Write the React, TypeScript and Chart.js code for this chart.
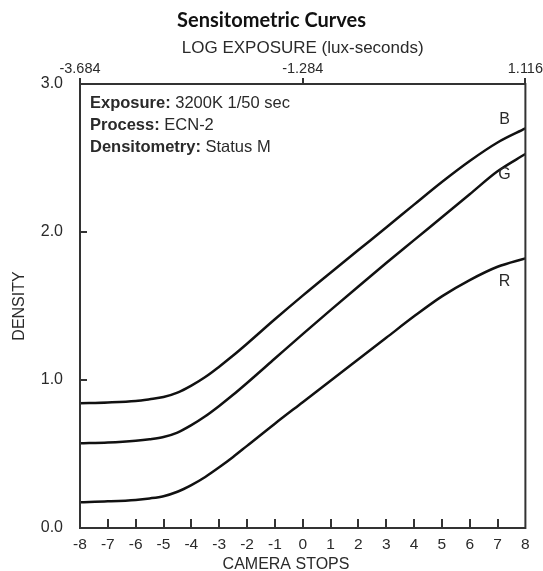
import React, { useEffect, useRef } from "react";
import { Chart, registerables } from "chart.js";

Chart.register(...registerables);

// Camera stops (bottom axis)
const stops = [-8, -7, -6, -5.5, -5, -4.5, -4, -3.5, -3, -2.5, -2, -1, 0, 1, 2, 3, 4, 5, 6, 7, 8];
// Density values per channel
const blueDensity = [0.843, 0.848, 0.858, 0.87, 0.885, 0.915, 0.962, 1.02, 1.09, 1.165, 1.245, 1.41, 1.57, 1.725, 1.878, 2.03, 2.185, 2.338, 2.48, 2.605, 2.7];
const greenDensity = [0.572, 0.578, 0.59, 0.6, 0.615, 0.645, 0.695, 0.755, 0.825, 0.9, 0.98, 1.145, 1.31, 1.472, 1.632, 1.79, 1.945, 2.1, 2.255, 2.41, 2.527];
const redDensity = [0.174, 0.18, 0.19, 0.2, 0.215, 0.245, 0.29, 0.345, 0.41, 0.48, 0.555, 0.705, 0.85, 0.995, 1.14, 1.285, 1.43, 1.565, 1.675, 1.765, 1.822];

// Curve labels
const curveNames = ["B", "G", "R"];
const curveLabelStops = [7.25, 7.25, 7.25];
const curveLabelDensities = [2.757, 2.385, 1.662];

// Top axis: log exposure tick labels at stops
const topTickStops = [-8, 0, 8];
const topTickLabels = ["-3.684", "-1.284", "1.116"];

// Info box
const infoKeys = ["Exposure:", "Process:", "Densitometry:"];
const infoValues = ["3200K 1/50 sec", "ECN-2", "Status M"];

const TEXT = "#2a2a2a";
const LINE = "#111";
const SANS = "'Liberation Sans', Arial, sans-serif";

export default function App() {
  const ref = useRef<HTMLCanvasElement | null>(null);

  useEffect(() => {
    if (!ref.current) return;
    const mk = (vals: number[]) => stops.map((s, i) => ({ x: s, y: vals[i] }));

    const overlay = {
      id: "overlay",
      afterDraw(chart: any) {
        const ctx = chart.ctx;
        const { left, right, top, bottom } = chart.chartArea;
        const xs = chart.scales.x;
        const ys = chart.scales.y;
        ctx.save();
        ctx.strokeStyle = "#333";
        ctx.lineWidth = 2;
        ctx.strokeRect(left, top, right - left, bottom - top);
        // inside ticks bottom
        ctx.beginPath();
        for (let s = -7; s <= 7; s++) {
          const px = Math.round(xs.getPixelForValue(s));
          ctx.moveTo(px, bottom);
          ctx.lineTo(px, bottom - 9);
        }
        for (const d of [1, 2]) {
          const py = Math.round(ys.getPixelForValue(d));
          ctx.moveTo(left, py);
          ctx.lineTo(left + 7, py);
        }
        ctx.stroke();
        // curve labels
        ctx.fillStyle = TEXT;
        ctx.font = `16px ${SANS}`;
        ctx.textAlign = "center";
        ctx.textBaseline = "middle";
        curveNames.forEach((n, i) => {
          ctx.fillText(n, xs.getPixelForValue(curveLabelStops[i]), ys.getPixelForValue(curveLabelDensities[i]));
        });
        // bottom axis title
        ctx.font = `16px ${SANS}`;
        ctx.fillText("CAMERA STOPS", xs.getPixelForValue(-0.6), bottom + 37);
        // info box
        ctx.textAlign = "left";
        const x0 = left + 10;
        infoKeys.forEach((k, i) => {
          const y = top + 19 + i * 22;
          ctx.font = `bold 16.5px ${SANS}`;
          ctx.fillText(k, x0, y);
          const w = ctx.measureText(k + " ").width;
          ctx.font = `16.5px ${SANS}`;
          ctx.fillText(infoValues[i], x0 + w, y);
        });
        ctx.restore();
      },
    };

    const chart = new Chart(ref.current, {
      type: "line",
      data: {
        datasets: [
          { label: "B", data: mk(blueDensity) },
          { label: "G", data: mk(greenDensity) },
          { label: "R", data: mk(redDensity) },
        ].map((d) => ({
          ...d,
          borderColor: LINE,
          borderWidth: 2.5,
          pointRadius: 0,
          fill: false,
          cubicInterpolationMode: "monotone" as const,
        })),
      },
      options: {
        responsive: false,
        animation: false,
        layout: { padding: 0 },
        plugins: {
          legend: { display: false },
          tooltip: { enabled: false },
          title: {
            display: true,
            text: "Sensitometric Curves",
            color: "#111",
            font: { family: "Lato, 'Open Sans', sans-serif", size: 20, weight: "bold", lineHeight: 1.2 },
            padding: { top: 9, bottom: 0 },
          },
        },
        scales: {
          x: {
            type: "linear",
            position: "bottom",
            min: -8,
            max: 8,
            border: { display: false },
            grid: { display: false, drawTicks: false },
            afterFit: (s: any) => { s.height = 43; },
            ticks: {
              stepSize: 1,
              color: TEXT,
              padding: 7,
              font: { family: SANS, size: 15.5 },
              callback: (v: any) => String(v),
            },
          },
          xTop: {
            type: "linear",
            position: "top",
            min: -8,
            max: 8,
            border: { display: false },
            grid: { display: true, drawOnChartArea: false, drawTicks: true, tickLength: 6, color: "#333", lineWidth: 2 },
            afterFit: (s: any) => { s.height = 51; },
            afterBuildTicks: (s: any) => { s.ticks = topTickStops.map((v) => ({ value: v })); },
            ticks: {
              color: TEXT,
              padding: 0,
              autoSkip: false,
              maxRotation: 0,
              font: { family: SANS, size: 14.5 },
              callback: (v: any) => {
                const i = topTickStops.indexOf(Number(v));
                return i >= 0 ? topTickLabels[i] : "";
              },
            },
            title: {
              display: true,
              text: "LOG EXPOSURE (lux-seconds)",
              color: TEXT,
              font: { family: SANS, size: 17 },
              padding: { top: 5, bottom: 0 },
            },
          },
          y: {
            type: "linear",
            position: "left",
            min: 0,
            max: 3,
            border: { display: false },
            grid: { display: false, drawTicks: false },
            afterFit: (s: any) => { s.width = 80; },
            ticks: {
              stepSize: 1,
              color: TEXT,
              padding: 17,
              font: { family: SANS, size: 16 },
              callback: (v: any) => Number(v).toFixed(1),
            },
            title: {
              display: true,
              text: "DENSITY",
              color: TEXT,
              font: { family: SANS, size: 16 },
              padding: { top: 10, bottom: 0 },
            },
          },
          yRight: {
            type: "linear",
            position: "right",
            min: 0,
            max: 3,
            display: true,
            border: { display: false },
            grid: { display: false, drawTicks: false },
            ticks: { display: false },
            afterFit: (s: any) => { s.width = 17; },
          },
        },
      },
      plugins: [overlay],
    } as any);
    return () => chart.destroy();
  }, []);

  return (
    <div style={{ position: "absolute", left: 0, top: 0, width: 543, height: 571, background: "#fff" }}>
      <canvas ref={ref} width={543} height={571} />
    </div>
  );
}
